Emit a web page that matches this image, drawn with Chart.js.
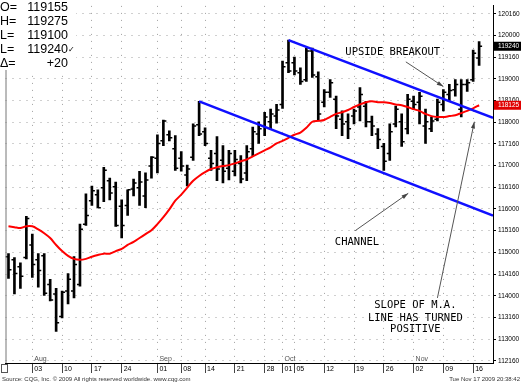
<!DOCTYPE html>
<html>
<head>
<meta charset="utf-8">
<script src="https://cdn.jsdelivr.net/npm/chart.js@4.4.0/dist/chart.umd.min.js"></script>
<style>
  html, body { margin:0; padding:0; background:#fff; }
  #wrap { width:521px; height:383px; }
</style>
</head>
<body>
<div id="wrap"><canvas id="bond" width="521" height="383"></canvas></div>
<script>
/* daily 30yr bond futures, Jul 28 - Nov 17 2009, prices in points (decimal) */

const opens = [114.90,114.83,114.67,114.88,115.17,114.83,114.92,114.26,114.04,113.52,
  114.11,114.11,114.26,115.65,116.19,116.33,116.49,116.65,116.51,116.06,
  116.08,116.46,116.49,116.30,116.99,117.17,117.57,117.71,117.39,117.17,
  116.78,117.19,117.94,117.78,117.17,117.28,117.12,116.94,116.87,117.05,
  116.83,117.39,117.73,117.91,118.01,118.14,118.41,119.37,119.37,119.14,
  118.98,119.64,119.05,118.46,118.69,118.53,118.07,118.01,118.14,118.35,
  118.37,118.01,117.73,117.44,117.28,117.96,118.01,117.85,118.48,118.46,
  117.91,117.85,118.07,118.41,118.64,118.75,118.30,118.87,118.98,119.48];

const highs = [114.97,114.88,114.76,115.83,115.42,114.97,114.97,114.38,114.17,114.11,
  114.51,114.90,115.65,116.35,116.53,116.44,116.96,116.71,116.62,116.21,
  116.44,116.69,116.87,116.83,117.21,117.71,118.05,117.80,117.69,117.32,
  117.01,117.96,118.48,117.87,117.35,117.67,117.46,117.35,117.35,117.23,
  117.46,117.89,118.01,118.23,118.30,118.41,119.41,119.89,119.50,119.25,
  119.71,119.71,119.16,118.75,118.98,118.60,118.26,118.19,118.30,118.80,
  118.48,118.14,117.85,117.51,117.96,118.37,118.19,118.64,118.60,118.69,
  118.30,118.12,118.53,118.75,118.87,118.98,118.98,118.98,119.66,119.86];

const lows = [114.40,114.04,114.17,114.85,114.42,114.20,114.01,113.88,113.18,113.49,
  113.81,113.95,114.22,115.62,116.08,116.03,116.17,116.21,115.60,115.33,
  115.85,116.30,116.08,116.03,116.71,116.83,117.46,117.57,116.89,116.87,
  116.53,117.12,117.69,117.46,116.89,116.65,116.60,116.67,116.76,116.60,
  116.65,117.23,117.51,117.69,117.85,117.98,118.32,119.14,119.09,118.87,
  118.94,119.03,118.03,118.35,118.57,117.85,117.69,117.62,117.96,118.03,
  117.89,117.69,117.39,116.89,117.12,117.89,117.44,117.73,118.30,117.96,
  117.51,117.78,118.03,118.26,118.48,118.60,118.12,118.71,118.94,119.31];

const closes = [114.60,114.51,114.45,115.78,114.72,114.58,114.06,113.90,113.38,114.08,
  114.38,114.72,115.53,115.85,116.42,116.03,116.89,116.37,115.62,115.62,
  116.44,116.60,116.62,116.67,117.19,117.51,118.03,117.64,116.94,116.99,
  116.92,117.91,117.73,117.51,117.05,116.92,116.87,117.28,117.14,116.69,
  117.32,117.78,117.85,118.12,118.19,118.28,119.28,119.18,119.18,118.94,
  119.64,119.09,118.19,118.69,118.91,118.14,117.96,117.85,118.26,118.64,
  118.01,117.91,117.60,117.10,117.78,118.30,117.55,118.53,118.41,118.60,
  118.01,118.03,118.46,118.69,118.73,118.87,118.87,118.91,119.59,119.75];

const movingAvg = [115.60,115.58,115.56,115.60,115.60,115.53,115.44,115.33,115.17,115.03,
  114.92,114.85,114.83,114.85,114.90,114.94,114.97,114.97,115.03,115.08,
  115.17,115.24,115.33,115.42,115.51,115.65,115.81,115.99,116.19,116.33,
  116.49,116.65,116.76,116.85,116.92,116.96,116.99,117.01,117.05,117.10,
  117.14,117.21,117.28,117.35,117.42,117.51,117.57,117.64,117.71,117.76,
  117.87,118.01,118.03,118.05,118.12,118.19,118.23,118.28,118.35,118.41,
  118.46,118.48,118.46,118.46,118.44,118.41,118.39,118.35,118.30,118.26,
  118.19,118.14,118.12,118.12,118.14,118.16,118.21,118.26,118.32,118.39];

// channel lines (bar index, price)
const upperX = [47, 81.33];
const upperY = [119.89, 118.10];
const lowerX = [32, 81.33];
const lowerY = [118.48, 115.85];

// axes
const priceTicks = [120.5,120,119.5,119,118.5,118,117.5,117,116.5,116,115.5,115,114.5,114,113.5,113,112.5];
const priceTickLabels = ["120160","120000","119160","119000","118160","118000","117160","117000",
  "116160","116000","115160","115000","114160","114000","113160","113000","112160"];
const dateTickIdx = [4,9,14,19,25,29,33,38,43,46,48,53,58,63,68,73,78];
const dateTickLabels = ["03","10","17","24","01","08","14","21","28","01","05","12","19","26","02","09","16"];
const monthIdx = [4,25,46,68];
const monthLabels = ["Aug","Sep","Oct","Nov"];

// readout + right axis flags
const readoutNames = ["O=","H=","L=","L=","\u0394="];
const readoutValues = ["119155","119275","119100","119240","+20"];
const lastCloseLabel = "119240";
const lastAvgLabel = "118125";

// annotations (bar index, price)
const noteText = ["UPSIDE BREAKOUT","CHANNEL","SLOPE OF M.A.","LINE HAS TURNED","POSITIVE"];
const noteX = [64.5, 58.5, 68.3, 68.3, 68.3];
const noteY = [119.60, 115.24, 113.77, 113.49, 113.22];
const arrowFromX = [66.7, 58.2, 72.0];
const arrowFromY = [119.39, 115.50, 113.95];
const arrowToX = [73.0, 67.1, 78.2];
const arrowToY = [118.82, 116.36, 118.01];

function drawArrow(ctx, x1, y1, x2, y2){
  ctx.beginPath(); ctx.moveTo(x1, y1); ctx.lineTo(x2, y2); ctx.stroke();
  const a = Math.atan2(y2 - y1, x2 - x1);
  ctx.beginPath();
  ctx.moveTo(x2, y2);
  ctx.lineTo(x2 - 7*Math.cos(a - 0.3), y2 - 7*Math.sin(a - 0.3));
  ctx.lineTo(x2 - 7*Math.cos(a + 0.3), y2 - 7*Math.sin(a + 0.3));
  ctx.closePath(); ctx.fill();
}

const overlay = {
  id: "overlay",
  afterDraw(chart){
    const { ctx, chartArea: a } = chart;
    const x = chart.scales.x, y = chart.scales.y;
    ctx.save();

    // left frame
    ctx.strokeStyle = "#777"; ctx.lineWidth = 1;
    ctx.beginPath(); ctx.moveTo(a.left + 0.5, a.top); ctx.lineTo(a.left + 0.5, a.bottom); ctx.stroke();

    // month names above the date axis
    ctx.font = '7px "Liberation Sans"'; ctx.fillStyle = "#555";
    ctx.textAlign = "left"; ctx.textBaseline = "bottom";
    monthIdx.forEach((m, k) => ctx.fillText(monthLabels[k], x.getPixelForValue(m) + 2, a.bottom));

    // annotation text
    ctx.font = '10.5px "DejaVu Sans Mono"'; ctx.fillStyle = "#000";
    ctx.textAlign = "center"; ctx.textBaseline = "middle";
    noteText.forEach((t, k) => ctx.fillText(t, x.getPixelForValue(noteX[k]), y.getPixelForValue(noteY[k])));

    // arrows
    ctx.strokeStyle = "#555"; ctx.fillStyle = "#444"; ctx.lineWidth = 1;
    arrowFromX.forEach((v, k) => drawArrow(ctx,
      x.getPixelForValue(v), y.getPixelForValue(arrowFromY[k]),
      x.getPixelForValue(arrowToX[k]), y.getPixelForValue(arrowToY[k])));

    // readout box
    ctx.fillStyle = "#fff"; ctx.fillRect(0, 0, 76, 70);
    ctx.fillStyle = "#000"; ctx.font = '12.5px "Liberation Sans"'; ctx.textBaseline = "alphabetic";
    readoutNames.forEach((n, k) => {
      ctx.textAlign = "left"; ctx.fillText(n, 0, 11 + 14*k);
      ctx.textAlign = "right"; ctx.fillText(readoutValues[k], 68, 11 + 14*k);
    });
    ctx.font = '8px "DejaVu Sans"'; ctx.textAlign = "left";
    ctx.fillText("\u2713", 68, 52);

    // right axis flags
    const flag = (price, text, bg) => {
      const py = y.getPixelForValue(price);
      ctx.fillStyle = bg; ctx.fillRect(a.right + 1, py - 4.5, 28, 9);
      ctx.fillStyle = "#fff"; ctx.font = '6.5px "Liberation Sans"';
      ctx.textAlign = "left"; ctx.textBaseline = "middle";
      ctx.fillText(text, a.right + 5, py);
    };
    flag(closes[closes.length - 1], lastCloseLabel, "#000");
    flag(movingAvg[movingAvg.length - 1], lastAvgLabel, "#e00000");

    // scroll box + footer
    ctx.strokeStyle = "#555"; ctx.fillStyle = "#fff";
    ctx.fillRect(1.5, a.bottom + 1.5, 6, 8); ctx.strokeRect(1.5, a.bottom + 1.5, 6, 8);
    ctx.fillStyle = "#333"; ctx.font = '6px "Liberation Sans"'; ctx.textBaseline = "alphabetic";
    ctx.textAlign = "left"; ctx.fillText("Source: CQG, Inc. \u00a9 2009 All rights reserved worldwide. www.cqg.com", 2, 381);
    ctx.textAlign = "right"; ctx.fillText("Tue Nov 17 2009 20:38:42", 520, 381);
    ctx.restore();
  }
};

const idx = opens.map((_, i) => i);

new Chart(document.getElementById("bond"), {
  type: "bar",
  data: {
    datasets: [
      { type: "line", data: upperX.map((v, i) => ({ x: v, y: upperY[i] })),
        borderColor: "#1010ff", borderWidth: 2.5, pointRadius: 0, order: 1 },
      { type: "line", data: lowerX.map((v, i) => ({ x: v, y: lowerY[i] })),
        borderColor: "#1010ff", borderWidth: 2.5, pointRadius: 0, order: 1 },
      { type: "line", data: idx.map(i => ({ x: i, y: movingAvg[i] })),
        borderColor: "#ff0000", borderWidth: 2, pointRadius: 0, tension: 0.3, order: 2 },
      { type: "scatter", data: idx.map(i => ({ x: i - 0.25, y: opens[i] })),
        pointStyle: "line", radius: 1.5, borderColor: "#000", borderWidth: 1.5, order: 3 },
      { type: "scatter", data: idx.map(i => ({ x: i + 0.25, y: closes[i] })),
        pointStyle: "line", radius: 1.5, borderColor: "#000", borderWidth: 1.5, order: 3 },
      { type: "bar", data: idx.map(i => ({ x: i, y: [lows[i], highs[i]] })),
        backgroundColor: "#000", barThickness: 2, grouped: false, order: 4 }
    ]
  },
  options: {
    responsive: false,
    animation: false,
    devicePixelRatio: 1,
    layout: { padding: { left: 2, right: 0, top: 0, bottom: 9 } },
    plugins: { legend: { display: false }, tooltip: { enabled: false } },
    scales: {
      x: {
        type: "linear", min: -0.5, max: 81.33, offset: false,
        afterBuildTicks: s => { s.ticks = dateTickIdx.map(v => ({ value: v })); },
        afterFit: s => { s.height = 11; },
        ticks: {
          autoSkip: false, maxRotation: 0, align: "start", labelOffset: 2, padding: -8,
          color: "#000", font: { family: "Liberation Sans", size: 7 },
          callback: (v, i) => dateTickLabels[i]
        },
        grid: { offset: false, color: "#a0a0a0", tickLength: 10, tickColor: "#444", tickBorderDash: [] },
        border: { display: true, color: "#000", width: 1, dash: [1, 6] }
      },
      y: {
        type: "linear", position: "right", min: 112.45, max: 120.68,
        afterBuildTicks: s => { s.ticks = priceTicks.map(v => ({ value: v })); },
        afterFit: s => { s.width = 28; },
        ticks: {
          padding: 2, color: "#000", font: { family: "Liberation Sans", size: 6.5 },
          callback: (v, i) => priceTickLabels[i]
        },
        grid: { color: "#a0a0a0", tickLength: 3, tickColor: "#000", tickBorderDash: [] },
        border: { display: true, color: "#000", width: 1, dash: [1, 6] }
      }
    }
  },
  plugins: [overlay]
});
</script>
</body>
</html>
